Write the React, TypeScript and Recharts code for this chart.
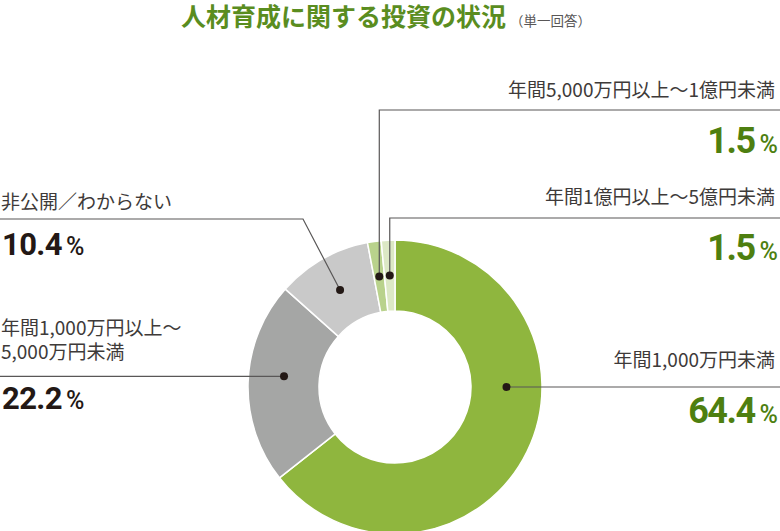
import { PieChart, Pie, Cell } from 'recharts';

const categories = [
    '年間1,000万円未満',
    '年間1,000万円以上～5,000万円未満',
    '非公開／わからない',
    '年間5,000万円以上～1億円未満',
    '年間1億円以上～5億円未満',
];
const shares = [64.4, 22.2, 10.4, 1.5, 1.5];
const shareLabels = ['64.4', '22.2', '10.4', '1.5', '1.5'];
// name text split into lines as printed
const nameLines = [
    ['年間1,000万円未満'],
    ['年間1,000万円以上～', '5,000万円未満'],
    ['非公開／わからない'],
    ['年間5,000万円以上～1億円未満'],
    ['年間1億円以上～5億円未満'],
];

const sliceColors = ['#8fb63e', '#a5a6a5', '#c9c9c9', '#b9d28c', '#dce8c5'];
const pctColors = ['#4e7f10', '#231815', '#231815', '#4e7f10', '#4e7f10'];

const data = categories.map((name, i) => ({ name, value: shares[i] }));

const RAD = Math.PI / 180;
const TEXT = '#3e3a39';
const RULE = '#595757';
const JP = '"Noto Sans CJK JP", "Noto Sans", sans-serif';
const NUM = 'Roboto, "Noto Sans", sans-serif';

// where each label sits (page coords)
const layout: any[] = [
    { side: 'right', angle: 0, nameY: 367, pctY: 423, big: true },
    { side: 'left', angle: 174.5, nameY: 335, pctY: 409 },
    { side: 'left', bendX: 303, ruleY: 219, nameY: 209, pctY: 255 },
    { side: 'right', ruleY: 110, nameY: 97, pctY: 153, big: true },
    { side: 'right', ruleY: 218, nameY: 204, pctY: 260, big: true },
];

function renderLabel(props: any) {
    const { cx, cy, midAngle, innerRadius, outerRadius, index } = props;
    const L = layout[index];
    const ang = L.angle !== undefined ? L.angle : midAngle;
    const r = (innerRadius + outerRadius) / 2;
    const dx = cx + r * Math.cos(-ang * RAD);
    const dy = cy + r * Math.sin(-ang * RAD);

    let path = '';
    if (index === 0 || index === 1) {
        path = index === 0 ? `M${dx},${dy}H780` : `M${dx},${dy}H0`;
    } else if (index === 2) {
        path = `M${dx},${dy}L${L.bendX},${L.ruleY}H0`;
    } else {
        path = `M${dx},${dy}V${L.ruleY}H780`;
    }

    const right = L.side === 'right';
    const tx = right ? 775 : 1;
    const px = right ? 778 : 2;

    return (
        <g>
            <path d={path} stroke={RULE} strokeWidth={1.2} fill="none" />
            <circle cx={dx} cy={dy} r={4} fill="#231815" />
            {nameLines[index].map((line, k) => (
                <text key={k} x={tx} y={L.nameY + k * 24} textAnchor={right ? 'end' : 'start'}
                    fontFamily={JP} fontSize={19} fill={TEXT}>{line}</text>
            ))}
            <text x={px} y={L.pctY} textAnchor={right ? 'end' : 'start'}
                fontFamily={NUM} fontWeight={700} fill={pctColors[index]}>
                <tspan fontSize={L.big ? 36 : 31} letterSpacing={L.big ? -1.5 : -0.6}>{shareLabels[index]}</tspan>
                <tspan fontSize={25} dx={L.big ? 5 : 4} fontWeight={500}>%</tspan>
            </text>
        </g>
    );
}

export default function App() {
    return (
        <div style={{ position: 'absolute', left: 0, top: 0, width: 780, height: 531, background: '#fff' }}>
            <div style={{ position: 'absolute', left: 181, top: 0, whiteSpace: 'nowrap', fontFamily: JP }}>
                <span style={{ fontSize: 25, fontWeight: 700, color: '#5a8d1f', lineHeight: '30px' }}>人材育成に関する投資の状況</span>
                <span style={{ fontSize: 13.5, color: '#595757', marginLeft: 4 }}>（単一回答）</span>
            </div>
            <PieChart width={780} height={531} style={{ position: 'absolute', left: 0, top: 0 }}>
                <Pie
                    data={data}
                    dataKey="value"
                    nameKey="name"
                    cx={390}
                    cy={382}
                    innerRadius={76}
                    outerRadius={147}
                    startAngle={90}
                    endAngle={-270}
                    stroke="#ffffff"
                    strokeWidth={1.5}
                    labelLine={false}
                    label={renderLabel}
                    isAnimationActive={false}
                >
                    {data.map((d, i) => (
                        <Cell key={d.name} fill={sliceColors[i]} />
                    ))}
                </Pie>
            </PieChart>
        </div>
    );
}
